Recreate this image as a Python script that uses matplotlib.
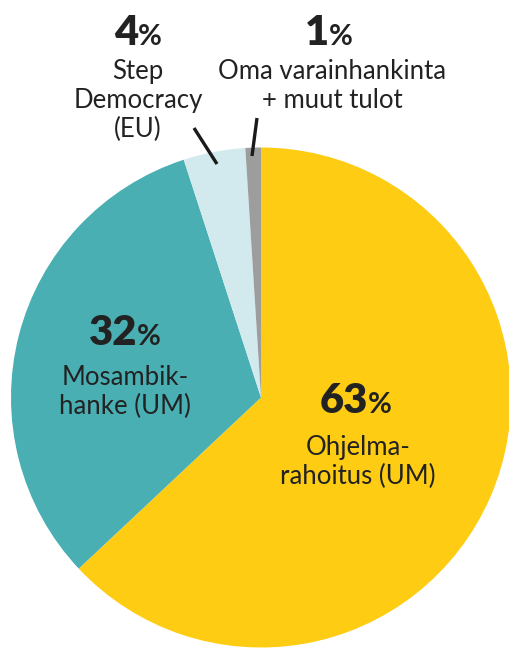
import numpy as np
import matplotlib
matplotlib.use('Agg')
import matplotlib.pyplot as plt

# osuudet rahoituksesta, myötäpäivään ylhäältä alkaen
shares = [63, 32, 4, 1]
numbers = ['63', '32', '4', '1']
labels = ['Ohjelma-\nrahoitus (UM)', 'Mosambik-\nhanke (UM)',
          'Step\nDemocracy\n(EU)', 'Oma varainhankinta\n+ muut tulot']
colors = ['#FECC12', '#4AAFB3', '#D2EAEE', '#9D9D9D']

W, H = 510, 648
CX, CY, R = 261, 397.5, 250


def px(x, y):
    # kuvan pikselit -> datan koordinaatit
    return (x - CX) / R, (CY - y) / R


plt.rcParams['font.family'] = ['Lato', 'DejaVu Sans']

fig = plt.figure(figsize=(W / 100, H / 100), dpi=100)
ax = fig.add_axes([0, 0, 1, 1])
ax.pie(shares, colors=colors, startangle=90, counterclock=False, radius=1,
       wedgeprops=dict(linewidth=0))
ax.set_xlim(px(0, 0)[0], px(W, 0)[0])
ax.set_ylim(px(0, H)[1], px(0, 0)[1])
ax.set_aspect('equal')
ax.axis('off')

txt = '#222222'
# (numeron oikea reuna, numeron perusviiva, tekstin keskikohta, tekstin ylin perusviiva)
pos = [(368, 413, 358, 455), (137, 345, 125, 385), (138, 45, 138, 79), (329, 45, 332, 79)]

for num, lab, (nx, ny, tx, ty) in zip(numbers, labels, pos):
    x, y = px(nx, ny)
    ax.text(x, y, num, ha='right', va='baseline', fontsize=30, fontweight='heavy', color=txt)
    ax.text(x, y, '%', ha='left', va='baseline', fontsize=21, fontweight='bold', color=txt)
    for i, line in enumerate(lab.split('\n')):
        x2, y2 = px(tx, ty + i * 29)
        ax.text(x2, y2, line, ha='center', va='baseline', fontsize=18.5, color=txt)

# viittausviivat pieniin sektoreihin
for (x1, y1), (x2, y2) in [((194, 128), (217, 164)), ((257, 118), (252, 156))]:
    a, b = px(x1, y1)
    c, d = px(x2, y2)
    ax.plot([a, c], [b, d], color='#1a1a1a', linewidth=2.4, solid_capstyle='butt')

fig.savefig('out.png', dpi=100)
